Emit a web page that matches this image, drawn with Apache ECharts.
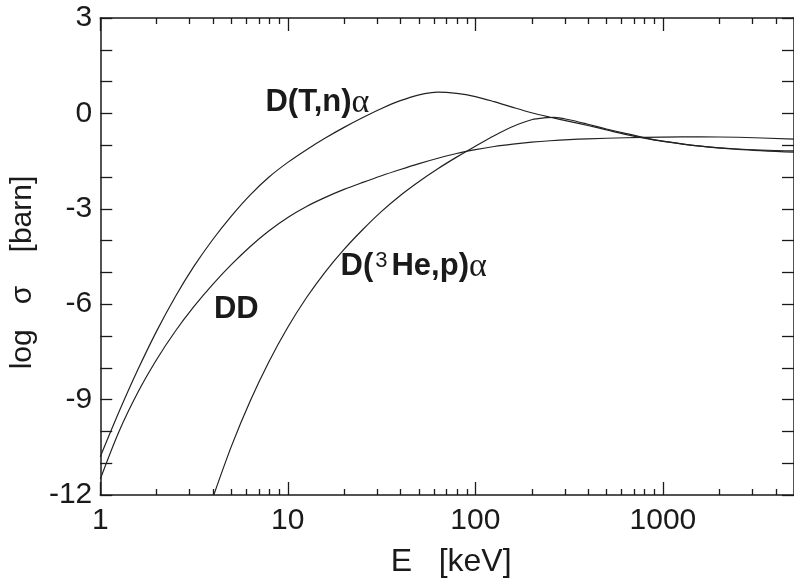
<!DOCTYPE html>
<html>
<head>
<meta charset="utf-8">
<script src="https://cdn.jsdelivr.net/npm/echarts@6/dist/echarts.min.js"></script>
<style>
  html, body { margin: 0; padding: 0; background: #fff; }
  #chart { width: 794px; height: 583px; }
</style>
</head>
<body>
<div id="chart"></div>
<script>
// cross sections, log10(sigma / barn) against E in keV
var dtData = [
  [1, -10.8], [1.259, -9.385], [1.585, -8.065], [1.995, -6.855], [2.512, -5.765],
  [3.162, -4.805], [3.981, -3.965], [5.012, -3.22], [6.31, -2.56], [7.943, -2.0],
  [10, -1.54], [12.59, -1.14], [15.85, -0.775], [19.95, -0.44], [25.12, -0.13],
  [31.62, 0.155], [39.81, 0.40], [50.12, 0.585], [63.1, 0.67], [79.4, 0.63],
  [100, 0.53], [125.9, 0.37], [158.5, 0.19], [199.5, 0.02], [251, -0.12],
  [316, -0.25], [398, -0.38], [501, -0.52], [631, -0.66], [794, -0.78],
  [1000, -0.88], [1585, -1.03], [2512, -1.12], [5000, -1.18]
];
var ddData = [
  [1, -11.5], [1.259, -10.0], [1.585, -8.775], [1.995, -7.745], [2.512, -6.85],
  [3.162, -6.07], [3.981, -5.375], [5.012, -4.75], [6.31, -4.185], [7.943, -3.69],
  [10, -3.27], [12.59, -2.925], [15.85, -2.64], [19.95, -2.39], [25.12, -2.17],
  [31.62, -1.96], [39.81, -1.765], [50.12, -1.58], [63.1, -1.41], [79.4, -1.26],
  [100, -1.14], [125.9, -1.04], [158.5, -0.965], [199.5, -0.905], [251, -0.86],
  [316, -0.825], [398, -0.80], [631, -0.765], [1000, -0.745], [1585, -0.735],
  [2512, -0.75], [5000, -0.81]
];
var dheData = [
  [4.03, -12], [5.012, -10.455], [6.31, -9.035], [7.943, -7.80], [10, -6.725],
  [12.59, -5.79], [15.85, -4.98], [19.95, -4.275], [25.12, -3.65], [31.62, -3.08],
  [39.81, -2.58], [50.12, -2.14], [63.1, -1.74], [79.4, -1.375], [100, -1.03],
  [125.9, -0.70], [158.5, -0.41], [199.5, -0.2], [240, -0.135], [263, -0.125],
  [316, -0.2], [398, -0.34], [501, -0.49], [631, -0.63], [794, -0.76],
  [1000, -0.87], [1585, -1.03], [2512, -1.13], [5000, -1.22]
];

var xMajor = [1, 10, 100, 1000];
var xMinor = [2, 3, 4, 5, 6, 7, 8, 9, 20, 30, 40, 50, 60, 70, 80, 90,
  200, 300, 400, 500, 600, 700, 800, 900, 2000, 3000, 4000];

// label anchors [E, log sigma]
var dtLabelAt = [7.6, 0.34];
var ddLabelAt = [4.04, -6.15];
var dheLabelAt = [19.1, -4.82];

var ink = '#1a1a1a';
var font = 'Liberation Sans';

function xAxisOf(pos, values, len, withLabel) {
  return {
    type: 'log', logBase: 10, min: 1, max: 5000, position: pos,
    axisLine: { show: withLabel, onZero: false, lineStyle: { color: ink, width: 1.5 } },
    axisTick: { show: true, inside: true, length: len, customValues: values,
      lineStyle: { color: ink, width: 1.3 } },
    axisLabel: withLabel && pos === 'bottom' ? {
      show: true, customValues: xMajor, margin: 11,
      fontFamily: font, fontSize: 30, color: ink,
      formatter: function (v) { return String(Math.round(v)); }
    } : { show: false },
    splitLine: { show: false },
    name: withLabel && pos === 'bottom' ? 'E   [keV]' : '',
    nameLocation: 'middle', nameGap: 51,
    nameTextStyle: { fontFamily: font, fontSize: 32, color: ink, padding: [0, 0, 0, 8] }
  };
}

function yAxisOf(pos, withLabel) {
  return {
    type: 'value', min: -12, max: 3, interval: 1, position: pos,
    axisLine: { show: true, onZero: false, lineStyle: { color: ink, width: 1.5 } },
    axisTick: { show: true, inside: true, length: 12, lineStyle: { color: ink, width: 1.3 } },
    axisLabel: {
      show: withLabel, margin: 8, fontFamily: font, fontSize: 30, color: ink,
      formatter: function (v) { return v % 3 === 0 ? String(v) : ''; }
    },
    splitLine: { show: false },
    name: withLabel ? 'log   \u03c3    [barn]' : '',
    nameLocation: 'middle', nameGap: 56, nameRotate: 90,
    nameTextStyle: { fontFamily: font, fontSize: 30, color: ink, padding: [0, 32, 0, 0] }
  };
}

function curve(name, data, label, at) {
  return {
    name: name, type: 'line', data: data, smooth: 0.3,
    showSymbol: false, symbol: 'none',
    lineStyle: { color: '#222', width: 1.2 },
    xAxisIndex: 0, yAxisIndex: 0,
    markPoint: {
      symbol: 'circle', symbolSize: 0, silent: true,
      itemStyle: { color: 'rgba(0,0,0,0)' },
      label: {
        show: true, position: 'right', distance: 0,
        formatter: label,
        rich: {
          b: { fontFamily: font, fontWeight: 'bold', fontSize: 31, color: ink, lineHeight: 34 },
          s: { fontFamily: font, fontSize: 22, color: ink, verticalAlign: 'top', lineHeight: 22, padding: [0, 4, 0, 2] },
          a: { fontFamily: 'Liberation Serif', fontSize: 34, color: ink, lineHeight: 34 }
        }
      },
      data: [{ coord: at }]
    }
  };
}

var chart = echarts.init(document.getElementById('chart'), null, { renderer: 'canvas' });
chart.setOption({
  animation: false,
  backgroundColor: '#fff',
  grid: { left: 100, right: -8, top: 18, bottom: 83, containLabel: false },
  xAxis: [
    xAxisOf('bottom', xMajor, 13, true),
    xAxisOf('bottom', xMinor, 6, false),
    xAxisOf('top', xMajor, 13, true),
    xAxisOf('top', xMinor, 6, false)
  ],
  yAxis: [yAxisOf('left', true), yAxisOf('right', false)],
  series: [
    curve('DT', dtData, '{b|D(T,n)}{a|\u03b1}', dtLabelAt),
    curve('DD', ddData, '{b|DD}', ddLabelAt),
    curve('DHe', dheData, '{b|D(}{s|3}{b|He,p)}{a|\u03b1}', dheLabelAt)
  ]
});
</script>
</body>
</html>
